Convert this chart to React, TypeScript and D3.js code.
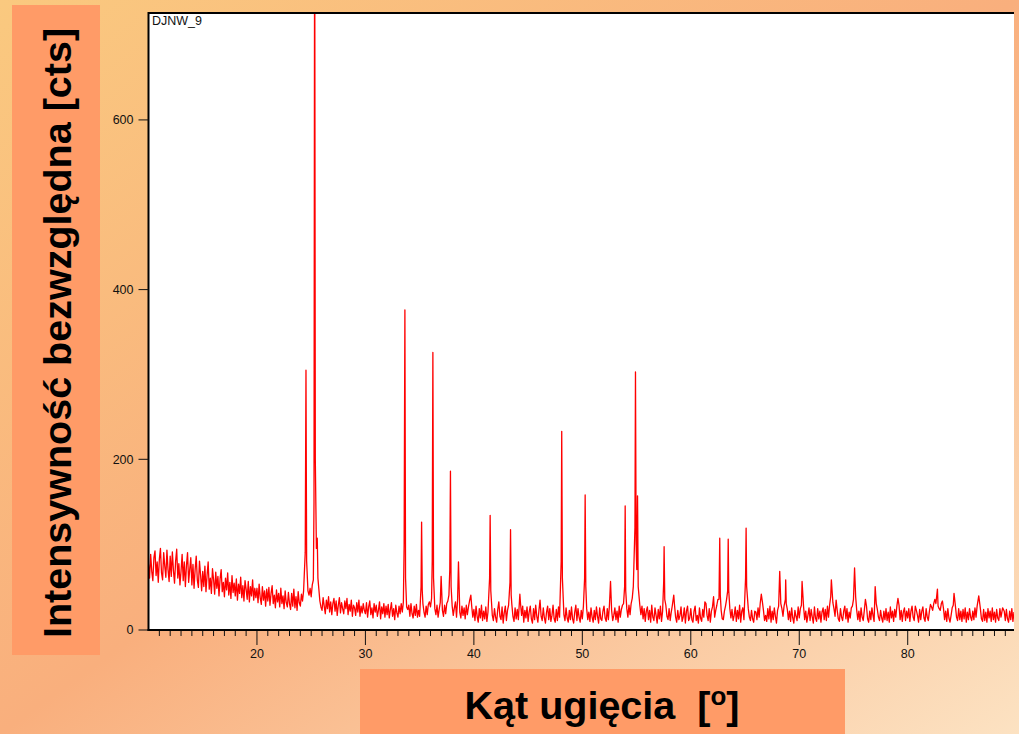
import React from "react";
import * as d3 from "d3";

// background counts, one value every 0.1 deg
const bg10 = [
  76, 60, 88, 68, 57, 84, 92, 63, 79, 55,
  82, 95, 66, 58, 90, 74, 61, 93, 70, 56,
  86, 62, 91, 69, 54, 80, 94, 60, 77, 52,
  68, 88, 57, 79, 50, 75, 90, 55, 70, 84,
  52, 76, 48, 70, 86, 58, 49, 80, 64, 45,
  68, 50, 74, 44, 63, 79, 47, 60, 42, 71,
  58, 41, 67, 48, 62, 39, 59, 70, 44, 55,
  38, 60, 46, 66, 40, 55, 36, 63, 43, 54,
  39, 59, 34, 53, 42, 61, 37, 51, 33, 57,
  47, 35, 56, 32, 50, 39, 58, 34, 48, 37,
];
const bg20 = [
  48, 31, 53, 37, 29, 50, 34, 45, 27, 47,
  33, 49, 28, 42, 51, 30, 40, 25, 46, 32,
  42, 26, 48, 30, 39, 24, 45, 31, 26, 43,
  30, 23, 42, 27, 47, 25, 38, 22, 44, 31,
  27, 41, 33, 45, 50, 60, 42, 45, 40, 48,
  38, 52, 58, 60, 72, 85, 90, 48, 33, 26,
  22, 37, 27, 18, 34, 24, 38, 20, 32, 17,
  30, 36, 21, 33, 16, 28, 37, 19, 31, 24,
  18, 33, 24, 36, 17, 29, 21, 34, 15, 28,
  25, 16, 31, 20, 34, 15, 27, 19, 30, 22,
];
const bg30 = [
  18, 31, 14, 26, 33, 17, 25, 13, 30, 20,
  28, 15, 22, 32, 12, 26, 18, 30, 14, 27,
  17, 29, 13, 23, 31, 15, 24, 11, 28, 19,
  14, 27, 18, 30, 20, 32, 25, 21, 26, 23,
  28, 15, 30, 18, 13, 27, 16, 29, 14, 22,
  15, 28, 30, 30, 20, 14, 27, 17, 29, 32,
  26, 36, 40, 40, 24, 17, 28, 14, 23, 31,
  30, 22, 15, 28, 18, 30, 33, 40, 40, 35,
  27, 16, 25, 32, 14, 35, 30, 20, 13, 27,
  16, 25, 12, 28, 17, 26, 33, 40, 27, 14,
];
const bg40 = [
  23, 10, 27, 15, 8, 24, 13, 28, 10, 21,
  12, 26, 9, 20, 28, 40, 30, 16, 10, 24,
  14, 8, 23, 28, 15, 11, 26, 7, 19, 27,
  10, 22, 28, 35, 30, 29, 15, 9, 25, 12,
  23, 11, 30, 30, 16, 27, 8, 22, 13, 26,
  9, 20, 27, 12, 7, 24, 11, 28, 15, 8,
  22, 28, 15, 10, 25, 13, 7, 20, 27, 11,
  24, 9, 16, 28, 12, 8, 23, 10, 26, 14,
  28, 35, 35, 17, 10, 25, 13, 8, 22, 11,
  26, 12, 7, 20, 28, 10, 24, 14, 8, 22,
];
const bg50 = [
  12, 27, 35, 40, 24, 11, 20, 9, 25, 14,
  8, 22, 11, 26, 15, 7, 25, 12, 10, 21,
  27, 13, 9, 24, 11, 28, 30, 22, 10, 16,
  25, 11, 21, 8, 27, 14, 23, 28, 30, 40,
  30, 24, 14, 28, 17, 30, 36, 50, 70, 80,
  90, 80, 45, 28, 17, 27, 12, 24, 9, 21,
  26, 11, 22, 8, 28, 14, 10, 25, 16, 7,
  23, 12, 27, 9, 21, 35, 40, 28, 15, 11,
  24, 10, 20, 28, 30, 28, 14, 8, 22, 11,
  16, 26, 9, 14, 25, 7, 21, 27, 10, 13,
];
const bg60 = [
  24, 11, 8, 21, 27, 10, 16, 7, 25, 13,
  9, 23, 14, 28, 30, 16, 10, 24, 8, 21,
  26, 30, 14, 22, 28, 35, 35, 30, 22, 12,
  11, 21, 27, 35, 40, 30, 24, 13, 23, 10,
  16, 26, 9, 22, 12, 28, 8, 21, 25, 11,
  30, 50, 45, 24, 14, 10, 22, 12, 8, 21,
  20, 11, 25, 14, 30, 32, 32, 22, 10, 16,
  9, 24, 12, 27, 8, 21, 11, 25, 15, 7,
  22, 27, 40, 30, 24, 15, 27, 40, 30, 23,
  11, 21, 9, 25, 13, 7, 22, 15, 10, 26,
];
const bg70 = [
  13, 24, 28, 30, 26, 11, 21, 8, 16, 25,
  10, 23, 14, 7, 26, 13, 9, 24, 12, 21,
  8, 20, 25, 11, 23, 10, 27, 14, 28, 38,
  35, 31, 24, 15, 25, 22, 12, 9, 24, 14,
  10, 21, 25, 12, 24, 8, 20, 13, 25, 27,
  35, 40, 38, 22, 11, 21, 9, 25, 14, 10,
  22, 30, 27, 12, 8, 21, 11, 25, 16, 9,
  30, 30, 23, 14, 10, 22, 13, 8, 21, 11,
  24, 10, 20, 8, 26, 13, 21, 9, 23, 14,
  27, 30, 28, 11, 22, 9, 20, 25, 10, 21,
];
const bg80 = [
  13, 24, 9, 21, 27, 14, 10, 22, 22, 16,
  8, 23, 11, 21, 26, 13, 9, 24, 14, 10,
  21, 26, 26, 22, 30, 35, 30, 30, 27, 24,
  22, 30, 30, 24, 11, 21, 9, 24, 13, 8,
  16, 25, 28, 30, 27, 14, 10, 24, 11, 21,
  9, 23, 12, 25, 8, 20, 11, 24, 14, 10,
  21, 11, 25, 14, 27, 30, 28, 24, 12, 9,
  23, 10, 20, 8, 24, 13, 21, 9, 25, 11,
  20, 8, 23, 13, 10, 24, 14, 22, 25, 21,
  10, 23, 12, 8, 21, 11, 24, 9, 20,
];
const bgBlocks = [bg10, bg20, bg30, bg40, bg50, bg60, bg70, bg80];
const bgStarts = [10, 20, 30, 40, 50, 60, 70, 80];
const bgStep = 0.1;

// reflections: [2theta, counts], tops plus a few flank points
const peaks: [number, number][] = [
  [24.45, 90], [24.52, 305], [24.58, 80],
  [25.26, 150], [25.32, 900], [25.38, 200], [25.48, 95], [25.56, 107], [25.62, 60],
  [33.57, 99], [33.64, 376], [33.7, 60],
  [35.13, 50], [35.18, 126], [35.24, 45],
  [36.16, 80], [36.22, 326], [36.28, 60],
  [36.98, 62],
  [37.78, 70], [37.84, 186], [37.9, 50],
  [38.58, 79],
  [39.72, 40],
  [41.45, 60], [41.5, 134], [41.56, 45],
  [42.3, 32],
  [43.33, 55], [43.38, 117], [43.44, 40],
  [44.24, 41],
  [46.1, 34],
  [48.05, 80], [48.1, 233], [48.16, 60],
  [50.21, 60], [50.26, 158], [50.32, 50],
  [52.6, 56],
  [53.9, 50], [53.95, 145], [54.0, 45],
  [54.85, 120], [54.9, 303], [54.96, 100], [55.02, 70], [55.09, 157], [55.15, 50],
  [57.5, 55], [57.54, 97], [57.6, 35],
  [58.43, 40],
  [61.3, 32],
  [62.1, 38],
  [62.67, 107], [62.72, 40],
  [63.4, 45], [63.45, 106], [63.5, 45],
  [65.05, 60], [65.1, 119], [65.15, 50],
  [66.5, 41],
  [68.2, 68],
  [68.72, 35], [68.75, 58], [68.8, 30],
  [70.26, 56],
  [72.96, 58],
  [73.4, 34],
  [74.2, 27],
  [75.1, 72],
  [76.1, 35],
  [77.0, 50],
  [79.1, 36],
  [80.7, 27],
  [82.1, 29],
  [82.74, 47],
  [83.2, 33],
  [84.27, 42],
  [86.55, 39],
  [88.75, 25],
];

const xDomain = [10, 89.8];
const yDomain = [0, 726];
const xTicks = [20, 30, 40, 50, 60, 70, 80];
const xMinorTicks = d3.range(11, 90);
const yTicks = [0, 200, 400, 600];
const sampleName = "DJNW_9";
const yTitle = "Intensywność bezwzględna [cts]";
const xTitle = "Kąt ugięcia  [";
const xTitleSup = "o";

const baseline: [number, number][] = bgBlocks.flatMap((arr, k) =>
  arr.map((v, i) => [+(bgStarts[k] + i * bgStep).toFixed(2), v] as [number, number])
);
const series = baseline
  .filter(([a]) => !peaks.some(([p]) => Math.abs(p - a) < 0.055))
  .concat(peaks)
  .sort((a, b) => a[0] - b[0]);

const FONT = "'Liberation Sans', Arial, Helvetica, sans-serif";

export default function App() {
  const W = 1019, H = 734;
  const left = 148.5, right = 1014, top = 13, bottom = 629;

  const x = d3.scaleLinear().domain(xDomain).range([left, right]);
  const y = d3.scaleLinear().domain(yDomain).range([bottom, top]);

  const line = d3
    .line<[number, number]>()
    .x((d) => x(d[0]))
    .y((d) => y(d[1]));

  return (
    <svg
      width={W}
      height={H}
      style={{ position: "absolute", left: 0, top: 0, display: "block" }}
      fontFamily={FONT}
    >
      <defs>
        <linearGradient id="bgGrad" x1="0" y1="0" x2="1" y2="1">
          <stop offset="0" stopColor="#fac97f" />
          <stop offset="0.5" stopColor="#f9af7d" />
          <stop offset="1" stopColor="#fce2c2" />
        </linearGradient>
        <clipPath id="plotClip">
          <rect x={left} y={top} width={right - left} height={bottom - top + 1} />
        </clipPath>
      </defs>
      <rect x={0} y={0} width={W} height={H} fill="url(#bgGrad)" />

      {/* axis title boxes */}
      <rect x={12} y={5} width={88} height={650} fill="#ff9b67" />
      <rect x={360} y={669} width={485} height={65} fill="#ff9b67" />
      <text
        transform={`translate(71, 333) rotate(-90)`}
        textAnchor="middle"
        fontSize={39.5}
        fontWeight="bold"
        fill="#000"
      >
        {yTitle}
      </text>
      <text
        x={602}
        y={719}
        textAnchor="middle"
        fontSize={39.5}
        fontWeight="bold"
        fill="#000"
        style={{ whiteSpace: "pre" }}
      >
        {xTitle}
        <tspan fontSize={26} dy={-14}>{xTitleSup}</tspan>
        <tspan dy={14}>]</tspan>
      </text>

      {/* plot area */}
      <rect x={left} y={top} width={right - left} height={bottom - top + 1} fill="#fff" />
      <path
        d={line(series) ?? ""}
        fill="none"
        stroke="#ff0000"
        strokeWidth={1.3}
        strokeLinejoin="round"
        clipPath="url(#plotClip)"
      />
      <text x={152} y={25} fontSize={12.5} fill="#111">
        {sampleName}
      </text>

      {/* frame */}
      <line x1={left} x2={right} y1={top} y2={top} stroke="#000" strokeWidth={2} />
      <line x1={left} x2={left} y1={top - 1} y2={bottom + 2} stroke="#000" strokeWidth={2} />
      <line x1={left - 1} x2={right} y1={bottom + 1} y2={bottom + 1} stroke="#000" strokeWidth={2} />

      {/* y axis */}
      {yTicks.map((t) => (
        <g key={t} transform={`translate(0,${y(t) + (t === 0 ? 1 : 0)})`}>
          <line x1={left - 10} x2={left} stroke="#111" strokeWidth={1} />
          <text x={left - 15} dy="0.35em" textAnchor="end" fontSize={12.5} fill="#111">
            {t}
          </text>
        </g>
      ))}

      {/* x axis */}
      {xMinorTicks.map((t) => (
        <line
          key={t}
          x1={x(t)}
          x2={x(t)}
          y1={bottom + 2}
          y2={bottom + (t % 10 === 0 ? 16 : 7)}
          stroke="#111"
          strokeWidth={1}
        />
      ))}
      {xTicks.map((t) => (
        <text key={t} x={x(t)} y={658} textAnchor="middle" fontSize={12.5} fill="#111">
          {t}
        </text>
      ))}
    </svg>
  );
}
